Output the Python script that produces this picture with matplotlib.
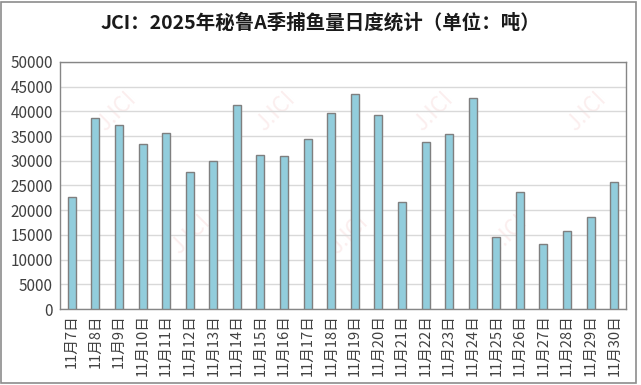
import matplotlib
matplotlib.use('Agg')
import matplotlib.pyplot as plt
from matplotlib.patches import Rectangle

plt.rcParams['font.family'] = ['Noto Sans CJK SC', 'DejaVu Sans']

days = ['11月7日', '11月8日', '11月9日', '11月10日', '11月11日', '11月12日',
        '11月13日', '11月14日', '11月15日', '11月16日', '11月17日', '11月18日',
        '11月19日', '11月20日', '11月21日', '11月22日', '11月23日', '11月24日',
        '11月25日', '11月26日', '11月27日', '11月28日', '11月29日', '11月30日']
catch = [22700, 38700, 37300, 33500, 35600, 27700,
         30000, 41300, 31100, 31000, 34400, 39700,
         43600, 39300, 21600, 33900, 35500, 42800,
         14600, 23700, 13200, 15800, 18700, 25800]
yticks = list(range(0, 50001, 5000))

fig = plt.figure(figsize=(6.41, 3.85), dpi=100)
ax = fig.add_axes([0.0936, 0.1974, 0.883, 0.6416])

x = range(len(days))
ax.bar(x, catch, width=0.34, color='#92CDDC', edgecolor='#7f7f7f', linewidth=1.0, zorder=3)

ax.set_xlim(-0.5, len(days) - 0.5)
ax.set_ylim(0, 50000)
ax.set_yticks(yticks)
ax.set_yticklabels([str(v) for v in yticks], fontsize=11, color='#404040')
ax.set_xticks(list(x))
ax.set_xticklabels(days, rotation=90, fontsize=10.5, color='#404040')
ax.tick_params(axis='y', length=0, pad=5)
ax.tick_params(axis='x', length=0, pad=4)
ax.grid(axis='y', color='#d9d9d9', linewidth=1.0, zorder=0)
for s in ax.spines.values():
    s.set_color('#868686')
    s.set_linewidth(1.0)

# faint watermarks
for wx, wy in [(0.10, 0.80), (0.38, 0.80), (0.66, 0.80), (0.93, 0.80),
               (0.23, 0.30), (0.51, 0.30), (0.79, 0.30)]:
    ax.text(wx, wy, 'J.ICI', transform=ax.transAxes, rotation=45, fontsize=16,
            color='#f8dede', alpha=0.5, ha='center', va='center', zorder=1)

fig.text(0.5, 0.94, 'JCI：2025年秘鲁A季捕鱼量日度统计（单位：吨）', ha='center', va='center',
         fontsize=14, fontweight='bold', color='#1a1a1a')

fig.patches.append(Rectangle((0.002, 0.004), 0.99, 0.992, transform=fig.transFigure,
                             fill=False, edgecolor='#8c8c8c', linewidth=1.2))

fig.savefig('out.png', dpi=100)
